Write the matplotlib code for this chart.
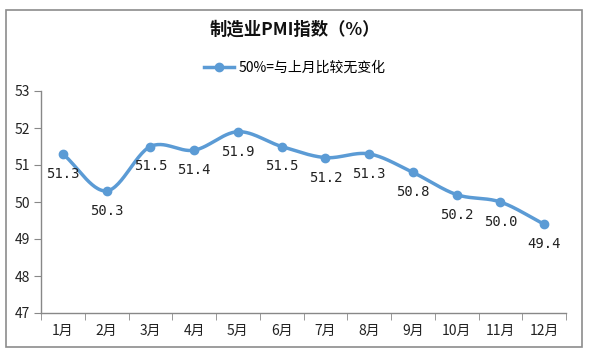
import numpy as np
import matplotlib
matplotlib.use("Agg")
import matplotlib.pyplot as plt
from matplotlib.patches import Rectangle
from matplotlib.lines import Line2D

plt.rcParams['font.family'] = ['Noto Sans CJK SC', 'DejaVu Sans']

months = ["1月", "2月", "3月", "4月", "5月", "6月", "7月", "8月", "9月", "10月", "11月", "12月"]
pmi = [51.3, 50.3, 51.5, 51.4, 51.9, 51.5, 51.2, 51.3, 50.8, 50.2, 50.0, 49.4]
title = "制造业PMI指数（%）"
legend_label = "50%=与上月比较无变化"
yticks = [47, 48, 49, 50, 51, 52, 53]

color = "#5B9BD5"

def catmull_rom(x, y, n=30):
    x = np.asarray(x, float); y = np.asarray(y, float)
    px = np.concatenate([[2*x[0]-x[1]], x, [2*x[-1]-x[-2]]])
    py = np.concatenate([[2*y[0]-y[1]], y, [2*y[-1]-y[-2]]])
    xs, ys = [], []
    t = np.linspace(0, 1, n, endpoint=False)
    for i in range(1, len(px)-2):
        p0, p1, p2, p3 = [np.array([px[j], py[j]]) for j in (i-1, i, i+1, i+2)]
        tt = t[:, None]
        pts = 0.5*((2*p1) + (-p0+p2)*tt + (2*p0-5*p1+4*p2-p3)*tt**2 + (-p0+3*p1-3*p2+p3)*tt**3)
        xs.extend(pts[:, 0]); ys.extend(pts[:, 1])
    xs.append(x[-1]); ys.append(y[-1])
    return np.array(xs), np.array(ys)

fig = plt.figure(figsize=(5.89, 3.62), dpi=100)
fig.patches.append(Rectangle((6/589, 1-347/362), 576/589, 337/362, transform=fig.transFigure,
                             fill=False, edgecolor="#8c8c8c", linewidth=1.2))

ax = fig.add_axes([41/589, 1-313/362, 525/589, 222/362])
x = np.arange(len(months))
sx, sy = catmull_rom(x, pmi)
ax.plot(sx, sy, color=color, linewidth=2.5, solid_capstyle='round', zorder=3)
ax.plot(x, pmi, 'o', color=color, markersize=6, zorder=4)
for xi, v in zip(x, pmi):
    ax.annotate(f"{v:.1f}", (xi, v), xytext=(0, -20), textcoords="offset points" if False else "offset pixels",
                ha="center", va="center", fontsize=10, color="#222222",
                family=['DejaVu Sans Mono'])

ax.set_xlim(-0.5, len(months)-0.5)
ax.set_ylim(47, 53)
ax.set_yticks(yticks)
ax.set_yticklabels([str(t) for t in yticks], fontsize=10, color="#222222")
ax.set_xticks(x)
ax.set_xticklabels(months, fontsize=10, color="#222222")
ax.set_xticks(np.arange(-0.5, len(months)), minor=True)
ax.tick_params(axis='x', which='major', length=0, pad=8)
ax.tick_params(axis='x', which='minor', length=5, direction='out', color="#888888")
ax.tick_params(axis='y', length=5, direction='out', color="#888888", pad=3)
for s in ["top", "right"]:
    ax.spines[s].set_visible(False)
for s in ["left", "bottom"]:
    ax.spines[s].set_color("#888888")
    ax.spines[s].set_linewidth(1.0)

fig.text(0.5, 1-30/362, title, ha="center", va="center", fontsize=12.5, fontweight="bold", color="#111111")
handle = Line2D([], [], color=color, linewidth=2.5, marker='o', markersize=6)
fig.legend([handle], [legend_label], loc="center", bbox_to_anchor=(0.5, 1-68/362), frameon=False,
           fontsize=10, handlelength=2.2, handletextpad=0.3)

fig.savefig("out.png", dpi=100)
